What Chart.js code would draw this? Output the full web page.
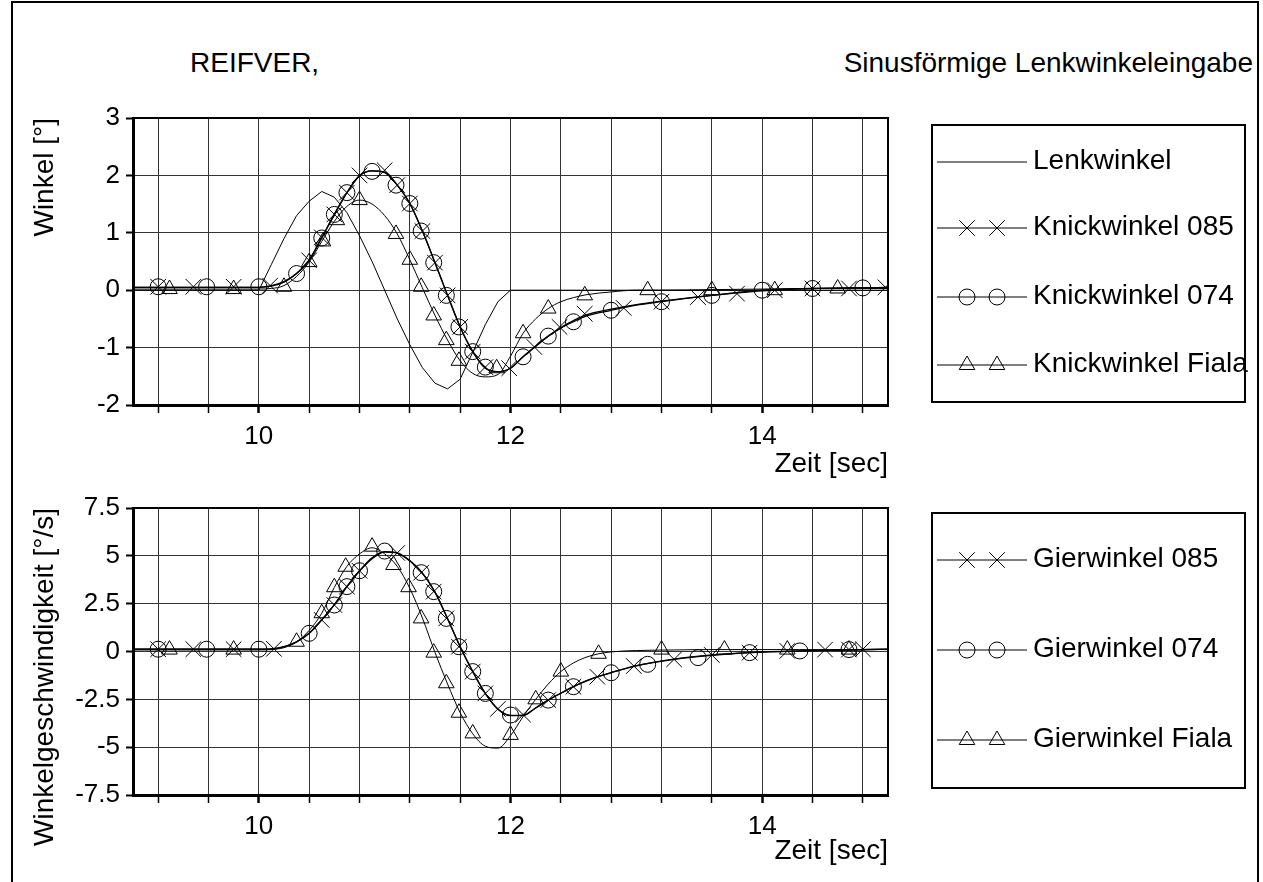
<!DOCTYPE html>
<html>
<head>
<meta charset="utf-8">
<script src="https://cdn.jsdelivr.net/npm/chart.js@4.4.1/dist/chart.umd.min.js"></script>
<style>
    body { margin: 0; background: #fff; overflow: hidden; }
    #page { position: relative; width: 1263px; height: 882px; font-family: "Liberation Sans", Arial, sans-serif; }
    #frame { position: absolute; left: 11px; top: 1px; width: 1244px; height: 900px; border: 2.5px solid #000; border-bottom: none; }
    .title { position: absolute; top: 49px; font-size: 28px; line-height: 28px; white-space: nowrap; }
    canvas { position: absolute; left: 0; }
</style>
</head>
<body>
<div id="page">
    <div id="frame"></div>
    <div class="title" style="left:190px">REIFVER,</div>
    <div class="title" style="right:10px">Sinusförmige Lenkwinkeleingabe</div>
    <canvas id="topChart" width="1263" height="395" style="top:90px"></canvas>
    <canvas id="bottomChart" width="1263" height="400" style="top:480px"></canvas>
</div>
<script>
// -- DATA (Zeit in sec)

const xGridTicks = [9.2, 9.6, 10, 10.4, 10.8, 11.2, 11.6, 12, 12.4, 12.8, 13.2, 13.6, 14, 14.4, 14.8];
const xLabelValues = [10, 12, 14];
const topYLabels = [-2, -1, 0, 1, 2, 3];
const bottomYLabels = [-7.5, -5, -2.5, 0, 2.5, 5, 7.5];

const topLegend = ["Lenkwinkel", "Knickwinkel 085", "Knickwinkel 074", "Knickwinkel Fiala"];
const bottomLegend = ["Gierwinkel 085", "Gierwinkel 074", "Gierwinkel Fiala"];

// Winkel [°]
const lenkT = [9.0, 10.0, 10.1, 10.2, 10.3, 10.4, 10.5, 10.6, 10.7, 10.8, 10.9, 11.0, 11.1, 11.2, 11.3, 11.4, 11.5, 11.6, 11.7, 11.8, 11.9, 12.0, 15.0];
const lenkwinkel = [0, 0, 0.45, 0.9, 1.3, 1.55, 1.72, 1.62, 1.35, 0.95, 0.5, 0.0, -0.5, -0.95, -1.35, -1.62, -1.72, -1.55, -1.08, -0.6, -0.2, 0, 0];

const knickCurveT = [9.0, 10.0, 10.1, 10.2, 10.3, 10.4, 10.5, 10.6, 10.7, 10.8, 10.9, 11.0, 11.1, 11.2, 11.3, 11.4, 11.5, 11.6, 11.7, 11.8, 11.9, 12.0, 12.1, 12.2, 12.3, 12.4, 12.5, 12.6, 12.8, 13.0, 13.2, 13.6, 14.0, 14.4, 15.0];
const knick085Curve = [0.05, 0.05, 0.08, 0.15, 0.29, 0.52, 0.92, 1.32, 1.70, 2.0, 2.08, 2.06, 1.83, 1.51, 1.03, 0.48, -0.09, -0.64, -1.07, -1.36, -1.42, -1.36, -1.16, -0.98, -0.80, -0.65, -0.53, -0.43, -0.33, -0.25, -0.19, -0.09, -0.01, 0.03, 0.05];
const knick074Curve = [0.05, 0.05, 0.07, 0.14, 0.29, 0.53, 0.91, 1.32, 1.70, 1.99, 2.08, 2.05, 1.83, 1.51, 1.03, 0.48, -0.09, -0.64, -1.07, -1.35, -1.42, -1.36, -1.16, -0.97, -0.80, -0.66, -0.55, -0.45, -0.35, -0.26, -0.20, -0.09, 0.0, 0.03, 0.05];
const knickFialaCurve = [0.02, 0.02, 0.03, 0.08, 0.24, 0.49, 0.85, 1.2, 1.46, 1.57, 1.5, 1.3, 0.98, 0.53, 0.04, -0.44, -0.87, -1.23, -1.45, -1.51, -1.47, -1.15, -0.75, -0.5, -0.32, -0.2, -0.13, -0.08, -0.03, 0.0, 0.0, 0.01, 0.02, 0.03, 0.03];

const knick085T = [9.2, 9.48, 9.8, 10.09, 10.4, 10.5, 10.6, 10.7, 10.8, 11.0, 11.1, 11.2, 11.3, 11.4, 11.5, 11.6, 11.7, 11.8, 11.99, 12.19, 12.39, 12.59, 12.9, 13.2, 13.49, 13.8, 14.1, 14.4, 14.69, 14.98];
const knick085 = [0.06, 0.06, 0.06, 0.08, 0.52, 0.92, 1.32, 1.70, 2.0, 2.09, 1.83, 1.51, 1.03, 0.48, -0.09, -0.64, -1.07, -1.34, -1.36, -0.99, -0.64, -0.41, -0.31, -0.2, -0.12, -0.06, 0.0, 0.03, 0.03, 0.05];
const knick074T = [9.2, 9.585, 10.0, 10.3, 10.5, 10.6, 10.7, 10.9, 11.09, 11.2, 11.29, 11.39, 11.49, 11.59, 11.7, 11.8, 12.1, 12.3, 12.5, 12.8, 13.2, 13.6, 14.0, 14.4, 14.8];
const knick074 = [0.06, 0.06, 0.06, 0.29, 0.91, 1.32, 1.70, 2.07, 1.83, 1.51, 1.03, 0.48, -0.09, -0.64, -1.07, -1.34, -1.16, -0.80, -0.55, -0.35, -0.20, -0.09, 0.0, 0.03, 0.04];
const knickFialaT = [9.29, 9.8, 10.2, 10.4, 10.51, 10.62, 10.8, 11.09, 11.2, 11.29, 11.39, 11.49, 11.59, 11.89, 12.1, 12.3, 12.59, 13.09, 13.6, 14.1, 14.6];
const knickFiala = [0.02, 0.02, 0.06, 0.49, 0.85, 1.22, 1.57, 0.98, 0.53, 0.06, -0.44, -0.87, -1.23, -1.36, -0.75, -0.32, -0.09, 0.0, 0.0, 0.0, 0.03];

// Winkelgeschwindigkeit [°/s]
const gierCurveT = [9.0, 10.0, 10.1, 10.2, 10.3, 10.4, 10.5, 10.6, 10.7, 10.8, 10.9, 11.0, 11.1, 11.2, 11.3, 11.4, 11.5, 11.6, 11.7, 11.8, 11.9, 12.0, 12.1, 12.2, 12.3, 12.4, 12.5, 12.6, 12.7, 12.8, 13.0, 13.3, 13.6, 13.9, 14.3, 15.0];
const gier085Curve = [0.12, 0.12, 0.14, 0.25, 0.5, 0.95, 1.65, 2.45, 3.4, 4.2, 4.85, 5.2, 5.15, 4.75, 4.1, 3.1, 1.7, 0.25, -1.05, -2.2, -3.0, -3.35, -3.35, -2.95, -2.54, -2.18, -1.84, -1.55, -1.3, -1.1, -0.75, -0.4, -0.18, -0.06, 0.03, 0.12];
const gier074Curve = [0.12, 0.12, 0.13, 0.24, 0.5, 0.95, 1.66, 2.44, 3.39, 4.22, 4.9, 5.22, 5.14, 4.73, 4.1, 3.1, 1.72, 0.25, -1.05, -2.19, -3.02, -3.34, -3.33, -2.95, -2.54, -2.18, -1.84, -1.54, -1.3, -1.11, -0.74, -0.41, -0.2, -0.06, 0.03, 0.12];
const gierFialaCurve = [0.08, 0.08, 0.1, 0.2, 0.5, 1.1, 2.0, 3.35, 4.45, 5.1, 5.42, 5.1, 4.45, 3.3, 1.75, -0.05, -1.7, -3.2, -4.3, -4.95, -5.05, -4.4, -3.4, -2.5, -1.7, -1.05, -0.6, -0.3, -0.12, -0.02, 0.05, 0.08, 0.1, 0.1, 0.1, 0.1];

const gier085T = [9.2, 9.48, 9.8, 10.12, 10.5, 10.6, 10.7, 10.8, 11.1, 11.29, 11.39, 11.49, 11.59, 11.7, 11.8, 11.9, 12.1, 12.3, 12.5, 12.69, 12.98, 13.3, 13.6, 13.9, 14.2, 14.5, 14.69, 14.8];
const gier085 = [0.12, 0.12, 0.12, 0.14, 1.65, 2.43, 3.39, 4.22, 5.15, 4.12, 3.13, 1.73, 0.25, -1.05, -2.19, -3.0, -3.3, -2.54, -1.84, -1.32, -0.76, -0.41, -0.18, -0.06, 0.03, 0.1, 0.1, 0.12];
const gier074T = [9.2, 9.585, 10.0, 10.4, 10.6, 10.7, 10.8, 11.0, 11.29, 11.39, 11.49, 11.59, 11.7, 11.8, 12.0, 12.3, 12.5, 12.8, 13.09, 13.49, 13.9, 14.3, 14.69];
const gier074 = [0.12, 0.12, 0.12, 0.95, 2.43, 3.39, 4.22, 5.25, 4.12, 3.13, 1.73, 0.25, -1.05, -2.19, -3.32, -2.54, -1.84, -1.11, -0.67, -0.32, -0.06, 0.03, 0.1];
const gierFialaT = [9.29, 9.8, 10.3, 10.5, 10.6, 10.69, 10.9, 11.07, 11.19, 11.29, 11.39, 11.49, 11.59, 11.7, 12.0, 12.2, 12.4, 12.7, 13.2, 13.7, 14.2, 14.69];
const gierFiala = [0.1, 0.1, 0.51, 2.0, 3.36, 4.43, 5.48, 4.52, 3.36, 1.73, -0.06, -1.66, -3.2, -4.28, -4.36, -2.5, -1.05, -0.12, 0.1, 0.1, 0.1, 0.1];

// -- HELPERS

const FONT = "'Liberation Sans', Arial, sans-serif";
Chart.defaults.font.family = FONT;
Chart.defaults.font.size = 26;
Chart.defaults.color = "#000";

function pts(ts, vs) {
    return ts.map((t, i) => ({ x: t, y: vs[i] }));
}

function hasValue(list, v) {
    return list.some(l => Math.abs(l - v) < 1e-6);
}

function curve(ts, vs, width, smooth) {
    return {
        data: pts(ts, vs),
        borderColor: "#000",
        borderWidth: width,
        pointRadius: 0,
        fill: false,
        tension: 0,
        cubicInterpolationMode: smooth ? "monotone" : "default"
    };
}

function markers(ts, vs, style, radius) {
    return {
        data: pts(ts, vs),
        showLine: false,
        pointStyle: style,
        pointRadius: radius,
        pointBorderColor: "#000",
        pointBackgroundColor: "rgba(0,0,0,0)",
        pointBorderWidth: 1
    };
}

const MARK = {
    cross: { style: "crossRot", radius: 11 },
    circle: { style: "circle", radius: 8 },
    triangle: { style: "triangle", radius: 9 }
};

// frame on top/right + boxed legend on the right side
const framePlugin = {
    id: "frameAndLegend",
    afterDraw(chart, args, opts) {
        const ctx = chart.ctx;
        const a = chart.chartArea;
        ctx.save();
        ctx.strokeStyle = "#000";
        ctx.lineWidth = 2;
        ctx.beginPath();
        ctx.moveTo(a.left, a.top);
        ctx.lineTo(a.right, a.top);
        ctx.lineTo(a.right, a.bottom);
        ctx.stroke();

        const b = opts.box;
        ctx.lineWidth = 2;
        ctx.strokeRect(b.x, b.y, b.w, b.h);
        opts.rows.forEach(r => {
            ctx.lineWidth = 1;
            ctx.beginPath();
            ctx.moveTo(937, r.y);
            ctx.lineTo(1027, r.y);
            ctx.stroke();
            if (r.mark) {
                [967, 997].forEach(mx => {
                    Chart.helpers.drawPoint(ctx, {
                        pointStyle: r.mark.style,
                        radius: r.mark.radius,
                        rotation: 0,
                        borderWidth: 1
                    }, mx, r.y);
                });
            }
            ctx.fillStyle = "#000";
            ctx.font = "28px " + FONT;
            ctx.textAlign = "left";
            ctx.textBaseline = "middle";
            ctx.fillText(r.label, 1033, r.y - 1);
            ctx.fillStyle = "rgba(0,0,0,0)";
        });
        ctx.restore();
    }
};

function makeOptions(cfg) {
    return {
        responsive: false,
        animation: false,
        layout: { padding: { left: 0, top: 28, right: 375, bottom: 0 } },
        plugins: {
            legend: { display: false },
            tooltip: { enabled: false },
            frameAndLegend: { box: cfg.box, rows: cfg.rows }
        },
        scales: {
            x: {
                type: "linear",
                min: 9,
                max: 15,
                afterBuildTicks: s => { s.ticks = xGridTicks.map(v => ({ value: v })); },
                afterFit: s => { s.height = cfg.xHeight; },
                ticks: {
                    autoSkip: false,
                    maxRotation: 0,
                    padding: 8,
                    callback: v => hasValue(xLabelValues, v) ? String(Math.round(v)) : ""
                },
                grid: {
                    color: "#333",
                    lineWidth: 1,
                    tickLength: 8,
                    tickColor: "#000",
                    tickWidth: c => (c.tick && hasValue(xLabelValues, c.tick.value)) ? 2.5 : 1.5
                },
                border: { color: "#000", width: 3 },
                title: {
                    display: true,
                    text: "Zeit [sec]",
                    align: "end",
                    font: { size: 28 },
                    padding: { top: 0, bottom: cfg.xTitlePad }
                }
            },
            y: {
                min: cfg.yMin,
                max: cfg.yMax,
                afterFit: s => { s.width = 133; },
                ticks: {
                    stepSize: cfg.yStep,
                    padding: 6,
                    callback: v => hasValue(cfg.yLabels, v) ? String(Math.round(v * 10) / 10) : ""
                },
                grid: {
                    color: "#333",
                    lineWidth: 1,
                    tickLength: 7,
                    tickWidth: 2,
                    tickColor: c => (c.tick && hasValue(cfg.yLabels, c.tick.value)) ? "#000" : "rgba(0,0,0,0)"
                },
                border: { color: "#000", width: 3 },
                title: {
                    display: true,
                    text: cfg.yTitle,
                    align: "end",
                    font: { size: 28 },
                    padding: { top: 28, bottom: 0 }
                }
            }
        }
    };
}

// -- TOP CHART: Winkel

new Chart(document.getElementById("topChart").getContext("2d"), {
    type: "line",
    data: {
        datasets: [
            curve(lenkT, lenkwinkel, 1, false),
            curve(knickCurveT, knick085Curve, 1.3, true),
            curve(knickCurveT, knick074Curve, 1.3, true),
            curve(knickCurveT, knickFialaCurve, 1, true),
            markers(knick085T, knick085, MARK.cross.style, MARK.cross.radius),
            markers(knick074T, knick074, MARK.circle.style, MARK.circle.radius),
            markers(knickFialaT, knickFiala, MARK.triangle.style, MARK.triangle.radius)
        ]
    },
    options: makeOptions({
        yMin: -2, yMax: 3, yStep: 0.5, yLabels: topYLabels,
        yTitle: "Winkel [°]",
        xHeight: 80, xTitlePad: 4,
        box: { x: 932, y: 35, w: 313, h: 277 },
        rows: [
            { label: topLegend[0], y: 72, mark: null },
            { label: topLegend[1], y: 138, mark: MARK.cross },
            { label: topLegend[2], y: 207, mark: MARK.circle },
            { label: topLegend[3], y: 275, mark: MARK.triangle }
        ]
    }),
    plugins: [framePlugin]
});

// -- BOTTOM CHART: Winkelgeschwindigkeit

new Chart(document.getElementById("bottomChart").getContext("2d"), {
    type: "line",
    data: {
        datasets: [
            curve(gierCurveT, gier085Curve, 1.3, true),
            curve(gierCurveT, gier074Curve, 1.3, true),
            curve(gierCurveT, gierFialaCurve, 1, true),
            markers(gier085T, gier085, MARK.cross.style, MARK.cross.radius),
            markers(gier074T, gier074, MARK.circle.style, MARK.circle.radius),
            markers(gierFialaT, gierFiala, MARK.triangle.style, MARK.triangle.radius)
        ]
    },
    options: makeOptions({
        yMin: -7.5, yMax: 7.5, yStep: 1.25, yLabels: bottomYLabels,
        yTitle: "Winkelgeschwindigkeit [°/s]",
        xHeight: 85, xTitlePad: 12,
        box: { x: 932, y: 33, w: 313, h: 275 },
        rows: [
            { label: bottomLegend[0], y: 80, mark: MARK.cross },
            { label: bottomLegend[1], y: 170, mark: MARK.circle },
            { label: bottomLegend[2], y: 260, mark: MARK.triangle }
        ]
    }),
    plugins: [framePlugin]
});
</script>
</body>
</html>
